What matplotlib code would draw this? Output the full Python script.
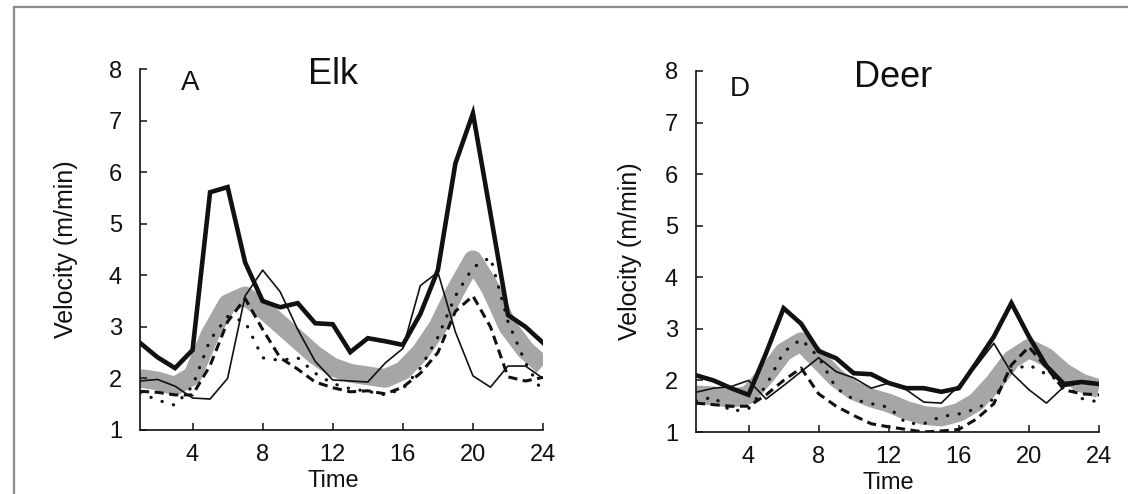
import matplotlib
matplotlib.use("Agg")
import matplotlib.pyplot as plt
from matplotlib.lines import Line2D

plt.rcParams['font.family'] = ['Liberation Sans', 'DejaVu Sans']

hours = list(range(1, 25))
x_ticks = [4, 8, 12, 16, 20, 24]
y_ticks = [1, 2, 3, 4, 5, 6, 7, 8]

# Elk velocities (m/min) by hour
elk_thick = [2.69, 2.41, 2.2, 2.55, 5.61, 5.71, 4.25, 3.5, 3.38, 3.46, 3.07, 3.05,
             2.51, 2.78, 2.72, 2.65, 3.25, 4.1, 6.17, 7.14, 5.2, 3.23, 3.0, 2.69]
elk_thin = [1.95, 1.98, 1.85, 1.62, 1.6, 2.0, 3.6, 4.1, 3.68, 2.95, 2.33, 1.97,
            1.95, 1.93, 2.3, 2.58, 3.8, 4.06, 2.9, 2.05, 1.83, 2.24, 2.24, 2.0]
elk_dashed = [1.75, 1.73, 1.68, 1.68, 2.25, 3.1, 3.55, 2.95, 2.4, 2.18, 1.93, 1.82,
              1.74, 1.76, 1.7, 1.83, 2.1, 2.5, 3.3, 3.6, 3.0, 2.03, 1.95, 2.02]
elk_dotted = [1.72, 1.58, 1.48, 1.85, 2.75, 3.2, 3.1, 2.4, 2.35, 2.4, 2.1, 1.9,
              1.8, 1.75, 1.68, 1.8, 2.2, 2.8, 3.6, 4.15, 4.35, 3.1, 2.3, 1.72]
elk_band = [2.0, 1.95, 1.85, 2.05, 2.85, 3.45, 3.6, 3.35, 3.05, 2.75, 2.45, 2.22,
            2.1, 2.05, 2.0, 2.15, 2.5, 3.0, 3.7, 4.3, 3.75, 3.0, 2.55, 2.25]

# Deer velocities (m/min) by hour
deer_thick = [2.1, 2.0, 1.85, 1.72, 2.53, 3.4, 3.1, 2.57, 2.43, 2.14, 2.12, 1.95,
              1.85, 1.85, 1.78, 1.85, 2.34, 2.85, 3.5, 2.85, 2.28, 1.93, 1.97, 1.93]
deer_thin = [1.77, 1.85, 1.88, 2.0, 1.64, 1.9, 2.17, 2.44, 2.17, 2.05, 1.85, 1.95,
             1.82, 1.58, 1.56, 1.9, 2.28, 2.72, 2.15, 1.82, 1.56, 1.88, 1.95, 1.93]
deer_dashed = [1.56, 1.53, 1.5, 1.5, 1.72, 2.0, 2.24, 1.74, 1.5, 1.32, 1.16, 1.1,
               1.05, 1.0, 1.02, 1.05, 1.25, 1.55, 2.3, 2.65, 2.25, 1.82, 1.74, 1.72]
deer_dotted = [1.6, 1.68, 1.4, 1.45, 1.9, 2.55, 2.8, 2.45, 1.85, 1.63, 1.55, 1.48,
               1.17, 1.16, 1.3, 1.35, 1.45, 1.64, 2.2, 2.3, 2.12, 1.95, 1.65, 1.58]
deer_band = [1.72, 1.7, 1.65, 1.72, 2.1, 2.55, 2.75, 2.4, 2.05, 1.8, 1.66, 1.56,
             1.42, 1.32, 1.29, 1.38, 1.58, 1.95, 2.4, 2.62, 2.45, 2.15, 1.95, 1.84]

fig = plt.figure(figsize=(11.28, 4.94), dpi=100)
fig.patch.set_facecolor('white')

ax_elk = fig.add_axes([0.1241, 0.1296, 0.3573, 0.7307])
ax_deer = fig.add_axes([0.6170, 0.1255, 0.3573, 0.7308])

ink = '#111111'


def draw_panel(ax, thick, thin, dashed, dotted, band, letter, title,
               letter_xy, title_xy, ylabel_x, xlabel_x):
    ax.plot(hours, band, color='#a6a6a6', lw=13.5, solid_joinstyle='round',
            solid_capstyle='butt', zorder=1)
    ax.plot(hours, dotted, color=ink, lw=2.3, linestyle=(0, (0.1, 3.6)),
            dash_capstyle='round', zorder=3)
    ax.plot(hours, dashed, color=ink, lw=2.2, linestyle=(0, (3.0, 1.8)),
            zorder=3)
    ax.plot(hours, thin, color=ink, lw=1.2, zorder=4)
    ax.plot(hours, thick, color=ink, lw=3.3, solid_joinstyle='miter', zorder=5)

    ax.set_xlim(1, 24)
    ax.set_ylim(1, 8)
    ax.set_xticks(x_ticks)
    ax.set_yticks(y_ticks)
    ax.tick_params(axis='both', direction='in', length=5, width=1.1,
                   color=ink, labelsize=17, labelcolor=ink)
    ax.tick_params(axis='y', pad=13)
    ax.tick_params(axis='x', pad=10)
    for side in ('top', 'right'):
        ax.spines[side].set_visible(False)
    for side in ('left', 'bottom'):
        ax.spines[side].set_linewidth(1.2)
        ax.spines[side].set_color(ink)

    ax.set_ylabel('Velocity (m/min)', fontsize=18, color=ink)
    ax.yaxis.set_label_coords(ylabel_x, 0.5)
    ax.set_xlabel('Time', fontsize=17, color=ink)
    ax.xaxis.set_label_coords(xlabel_x, -0.11)

    ax.text(letter_xy[0], letter_xy[1], letter, transform=ax.transAxes,
            fontsize=20, ha='center', va='center', color=ink)
    ax.text(title_xy[0], title_xy[1], title, transform=ax.transAxes,
            fontsize=26, ha='center', va='center', color=ink)


draw_panel(ax_elk, elk_thick, elk_thin, elk_dashed, elk_dotted, elk_band,
           'A', 'Elk', (0.124, 0.962), (0.479, 0.985), -0.155, 0.48)
draw_panel(ax_deer, deer_thick, deer_thin, deer_dashed, deer_dotted, deer_band,
           'D', 'Deer', (0.109, 0.95), (0.489, 0.982), -0.133, 0.477)

# Outer frame (top and left edges)
W, H = 1128.0, 494.0
fig.add_artist(Line2D([14 / W, 14 / W], [1 - 7 / H, 0], color='#8c8c8c',
                      lw=1.6, transform=fig.transFigure))
fig.add_artist(Line2D([14 / W, 1], [1 - 7 / H, 1 - 7 / H], color='#8c8c8c',
                      lw=1.6, transform=fig.transFigure))

fig.savefig('out.png', dpi=100, facecolor='white')
